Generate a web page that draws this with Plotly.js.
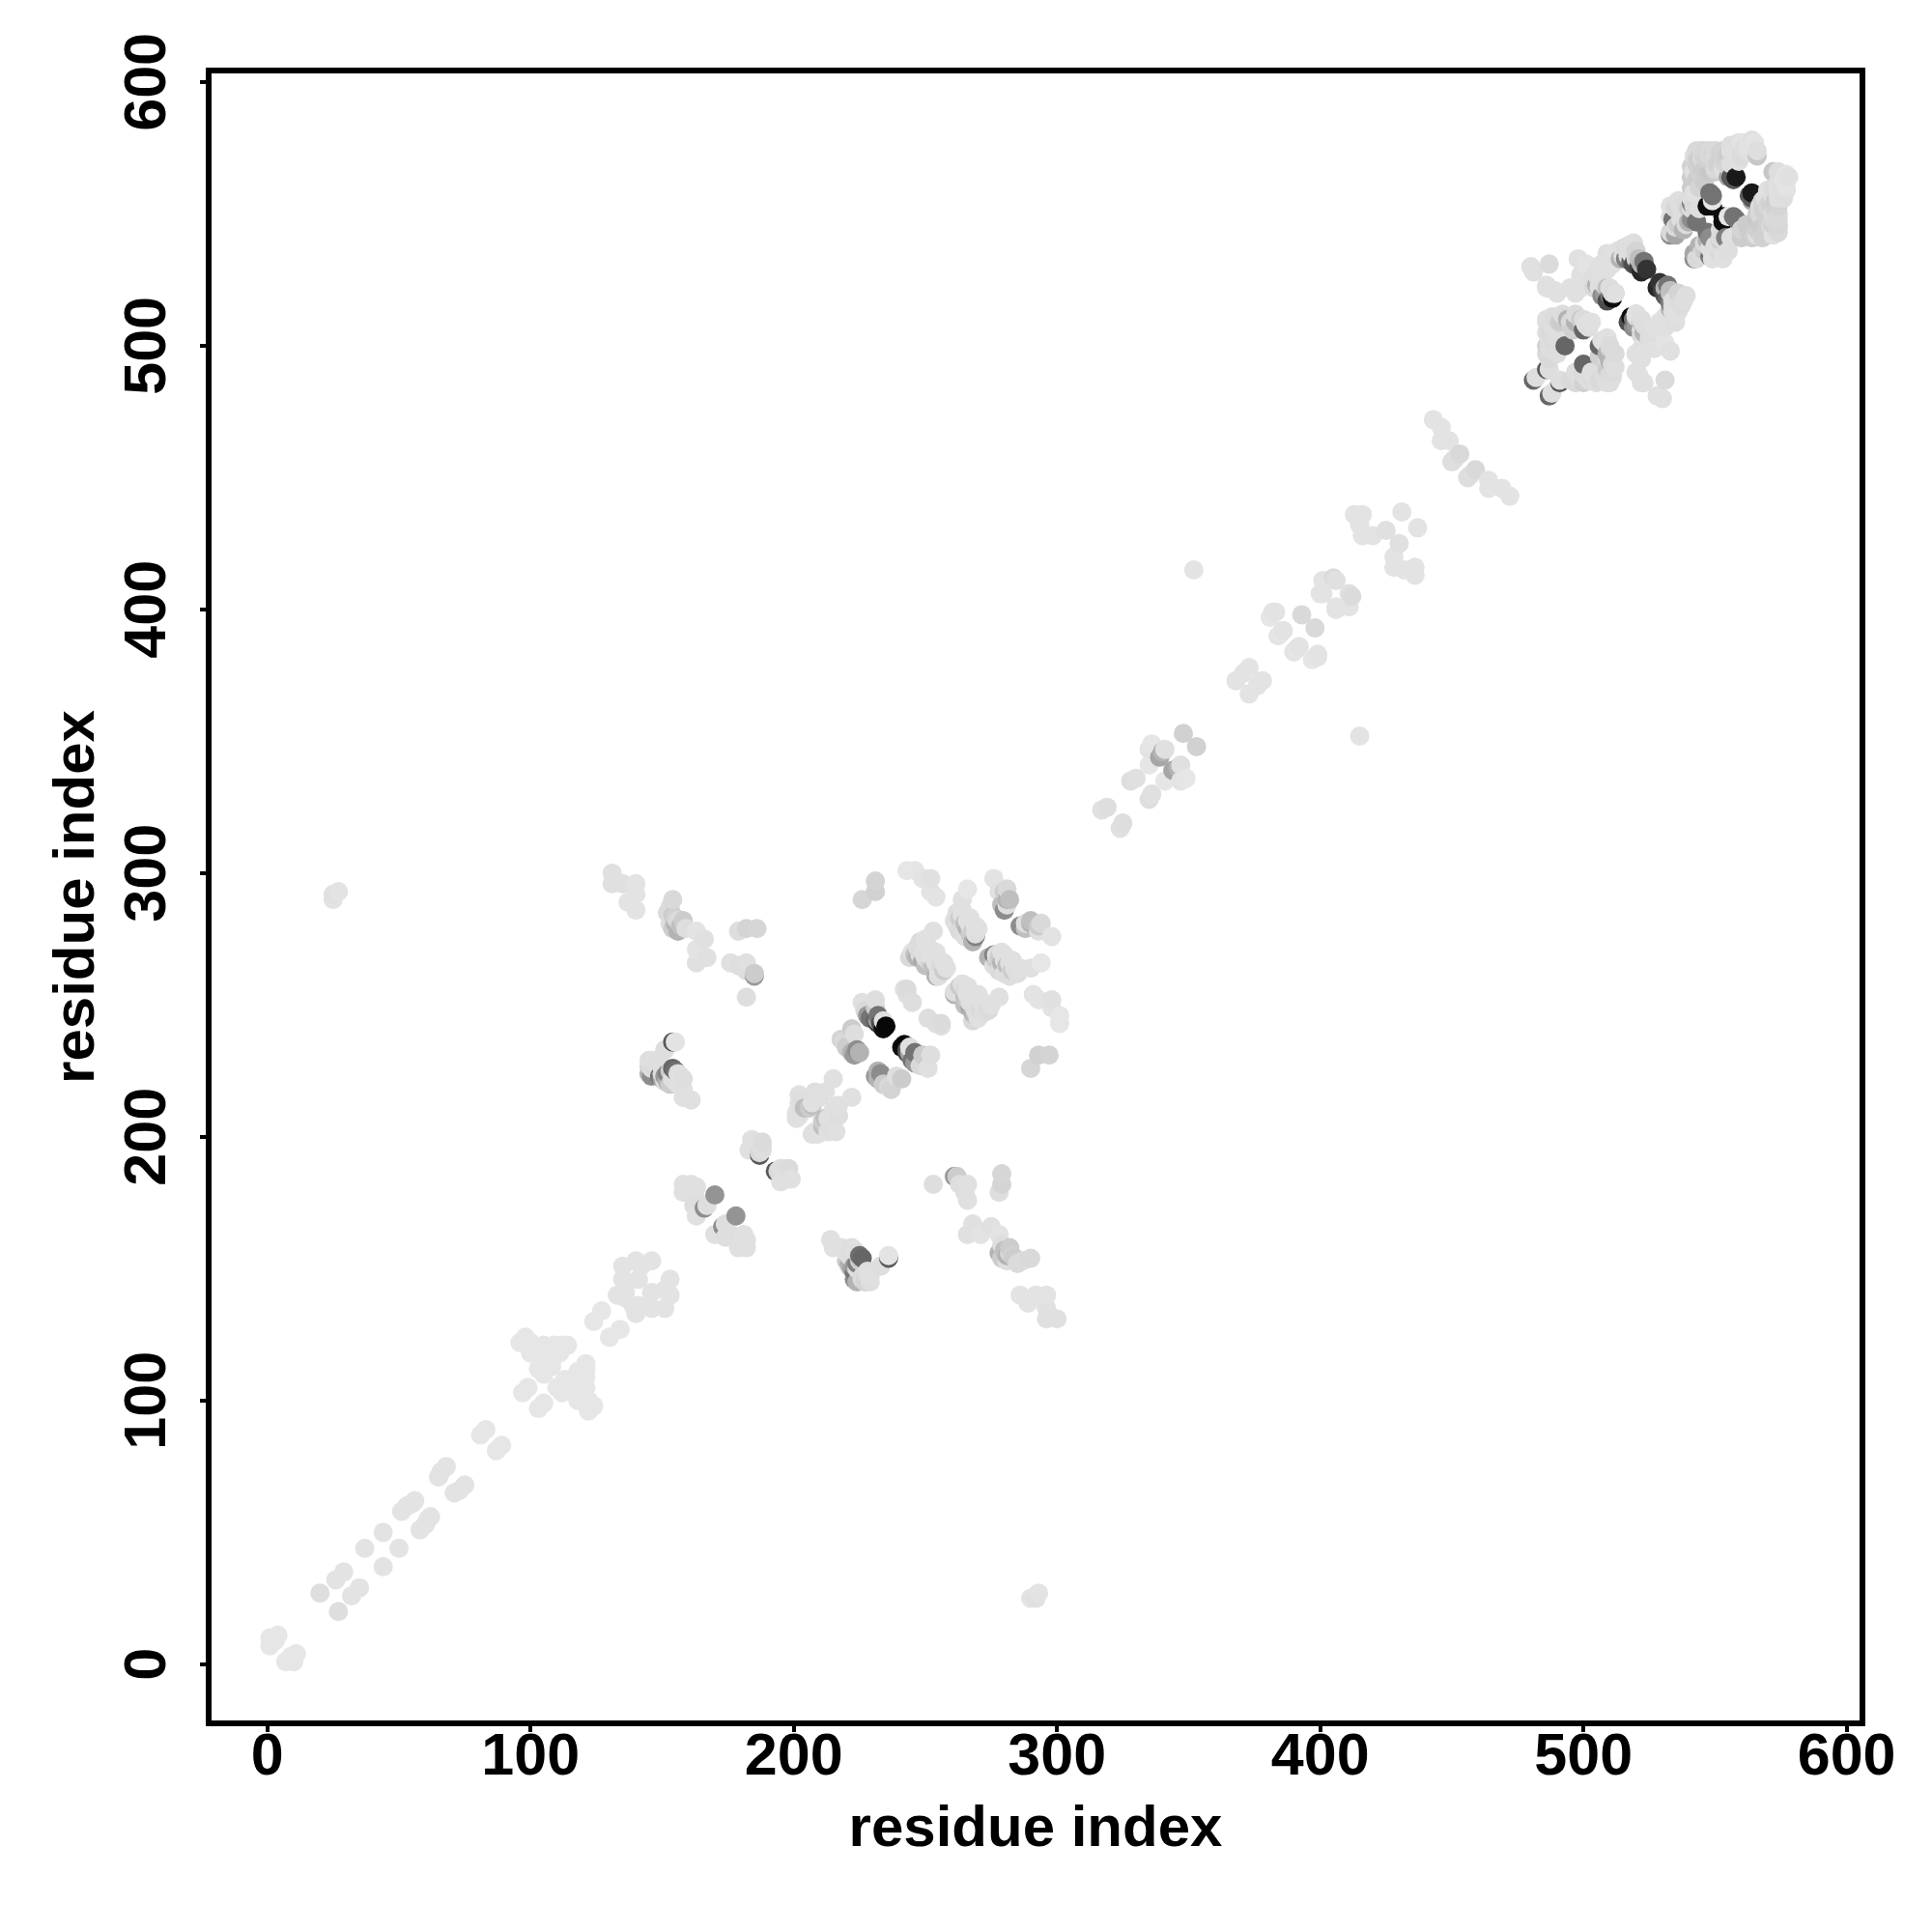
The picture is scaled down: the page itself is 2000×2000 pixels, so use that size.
<!DOCTYPE html>
<html>
<head>
<meta charset="utf-8">
<script src="https://cdn.plot.ly/plotly-3.0.1.min.js"></script>
<style>html,body{margin:0;padding:0;background:#fff}</style>
</head>
<body>
<div id="chart" style="width:2000px;height:2000px"></div>
<script>
// Contact pairs: residue i < residue j, with contact score (0 white .. 1 black)
const residueI = [
  1,1,3,4, 20,26,29,37,44, 51,53,55,56,65,66,68,81,83,97,99,
  96,98,100,105,109,114,111,104,108,105,108, 124,127,
  135,140,146,142,141,135,136,133,136,
  158,161,158,163,163,163,162,166,167,170,
  184,188,187,187,188,183,185,188,184,
  201,202,202,203,204,207,209,212,215,208,206,210,202,201,207,
  131,131,135,140,140,137,140,
  154,153,153,155,158,156,159,163,166,163,167,163,
  179,182,186,176,179,182,182,185,185,182,
  145,147,149,152,153,152,154,155,151,154,155,153,158,158,161,158,146,145,149,146,145,
  25,25,27,
  226,231,227,228,229,231,232,233,232,234,234,235,231,232,
  222,223,219,220,222,225,223,224,218,
  243,245,243,242,
  253,250,248,244,248,247,249,252,253,256,255,257,254,
  266,264,264,261,264,267,269,269,268,
  243,246,249,252,252,254,
  231,231,226,
  276,278,280,279,280,281,282,281,281,
  317,319,328,330,335,336,339,340,341,335,348,
  368,371,373,381,383,384,386,393,382,385,
  400,401,401,406,405,
  352,
  413,416,415,416,420,425,431,
  443,446,446,449,450,451,453,
  481,487,487,486,490,497,498,501,501,506,506,504,509,513,517,519,520,518,521,523,522,524,
  507,509,509,510,511,512,512,
  500,501,497,492,489,486,487,496,493,
  487,487,486,481,482,488,486,486,486,487,489,486,480,505,515,
  534,535,537,538,540,540,541,534,543,
  542,543,544,545,546,547,548,552,555,551,
  560,565,566,555,557,558,549,549,549,
  533,533,533,533,541,541,542,547,548,
  553,556,566,564,559,553,545,542,542,550,
  // overlapping rows that show only as rims and fill inside the clusters
  100,102,106,103,107,112,
  150,151,150,151,154,155,156,156,157,147,148,
  152,154,155,156,157,154,
  245,246,247,248,249,250,250,251,252,253,254,251,252,254,255,257,258,
  262,263,264,265,266,266,267,267,268,269,270,262,263,265,
  503,505,505,506,507,508,508,510,510,511,513,514,515,516,517,519,520,521,522,516,507,509,511,507,509,511,518,
  488,490,491,493,494,495,497,499,500,502,503,486,488,489,487,490,490,
  495,499,499,
  535,536,538,539,537,539,541,541,543,544,545,546,548,549,550,552,553,554,556,558,559,562,563,550,542,544,535,536,
  556,557,555,545,548,543,544,546,541,541,560,561,556,557,550,548,546,543
];
const residueJ = [
  7,10,9,11, 27,32,35,44,50, 58,60,61,62,71,73,75,87,89,103,105,
  122,124,122,121,121,121,118,117,115,110,113, 130,134,
  151,153,153,151,146,146,141,140,139,
  182,182,179,181,176,170,174,173,174,178,
  197,196,193,194,195,195,197,198,199,
  207,208,213,214,211,212,216,217,222,217,211,215,216,209,213,
  300,296,296,296,292,289,286,
  290,287,281,283,282,278,279,278,275,271,268,266,
  278,279,279,266,265,266,263,262,261,253,
  227,226,223,224,225,221,226,225,233,236,236,220,222,218,214,215,226,229,228,223,224,
  290,292,293,
  251,252,248,246,245,244,244,243,243,241,244,242,249,246,
  241,239,236,234,232,232,231,233,237,
  254,251,256,256,
  278,275,274,268,271,268,267,268,265,265,261,263,261,
  294,290,286,282,279,277,276,277,274,
  301,301,298,298,293,291,
  297,293,290,
  298,293,293,288,286,288,290,290,294,
  324,325,335,336,341,349,344,346,347,347,353,
  373,376,378,397,399,390,392,398,399,391,
  406,411,406,411,412,
  415,
  436,436,432,428,428,430,437,
  472,469,464,464,456,457,459,
  528,531,499,522,520,520,533,531,523,530,525,522,522,536,538,539,536,532,533,532,528,529,
  519,517,535,533,518,520,520,
  506,508,509,512,510,510,506,506,500,
  495,491,491,487,488,511,509,500,497,505,521,523,530,527,537,
  553,542,548,550,552,547,556,548,547,
  565,571,560,568,562,570,566,573,573,569,
  577,577,572,564,563,564,553,555,557,
  542,543,549,553,548,554,558,553,558,
  567,564,574,578,577,574,571,572,566,567,
  // overlapping rows that show only as rims and fill inside the clusters
  118,120,114,112,118,121,
  224,223,222,221,222,221,220,224,223,229,228,
  285,284,281,282,280,279,
  270,269,272,269,270,268,265,267,266,268,266,272,271,270,263,266,264,
  285,283,284,281,282,279,280,283,278,280,279,280,278,276,
  525,527,523,522,524,520,523,519,522,520,534,533,534,533,534,531,533,530,531,537,531,533,531,527,529,535,535,
  508,511,509,511,510,509,512,510,510,507,509,505,503,500,502,497,503,
  522,522,527,
  545,546,544,546,552,554,552,560,563,566,570,567,570,572,566,568,570,571,574,574,570,574,576,574,553,552,552,555,
  569,572,568,574,574,569,571,572,564,568,572,575,576,574,572,572,574,574
];
const contactScore = [
  .1,.1,.1,.1, .13,.11,.11,.11,.11, .11,.11,.11,.11,.11,.11,.11,.1,.1,.1,.1,
  .1,.1,.1,.1,.1,.1,.1,.1,.1,.1,.1, .1,.1,
  .11,.11,.11,.11,.11,.11,.11,.11,.11,
  .12,.12,.12,.12,.13,.12,.13,.45,.13,.42,
  .12,.13,.65,.15,.13,.12,.12,.14,.12,
  .12,.12,.12,.13,.25,.25,.12,.12,.12,.13,.2,.12,.12,.12,.12,
  .12,.12,.12,.11,.11,.11,.11,
  .15,.14,.13,.18,.2,.3,.13,.11,.12,.11,.12,.12,
  .13,.17,.16,.12,.13,.12,.13,.2,.4,.13,
  .17,.14,.55,.5,.2,.3,.6,.57,.13,.65,.11,.2,.13,.12,.12,.12,.13,.13,.13,.45,.3,
  .11,.12,.11,
  .12,.13,.15,.4,.55,.6,.35,.7,.75,.95,.12,.97,.2,.55,
  .2,.13,.15,.2,.3,.3,.4,.45,.17,
  .13,.13,.14,.12,
  .12,.12,.14,.15,.15,.3,.35,.12,.25,.15,.13,.2,.3,
  .1,.12,.12,.13,.14,.2,.5,.13,.3,
  .1,.1,.11,.12,.11,.11,
  .17,.18,.16,
  .11,.12,.2,.25,.45,.13,.25,.3,.15,
  .12,.13,.13,.12,.1,.1,.35,.3,.12,.11,.18,
  .11,.11,.11,.1,.11,.11,.11,.15,.11,.1,
  .11,.11,.11,.12,.14,
  .11,
  .11,.11,.11,.11,.11,.12,.11,
  .11,.11,.11,.11,.13,.13,.15,
  .12,.14,.13,.12,.12,.12,.12,.11,.12,.12,.13,.15,.25,.12,.13,.13,.17,.6,.25,.55,.85,.8,
  .45,.7,.13,.12,.95,.25,.12,
  .6,.12,.3,.13,.14,.13,.15,.18,.6,
  .15,.13,.65,.6,.13,.13,.13,.18,.15,.13,.12,.12,.12,.13,.13,
  .12,.35,.13,.13,.2,.3,.13,.55,.55,
  .18,.18,.17,.2,.2,.18,.22,.18,.2,.18,
  .11,.11,.22,.35,.65,.9,.95,.1,.55,
  .45,.15,.12,.12,.45,.5,.12,.95,.55,
  .13,.65,.13,.12,.13,.17,.15,.12,.12,.15,
  // overlapping rows that show only as rims and fill inside the clusters
  .1,.1,.1,.1,.1,.1,
  .13,.4,.35,.13,.13,.13,.12,.13,.12,.12,.13,
  .14,.2,.3,.14,.25,.2,
  .12,.25,.13,.13,.13,.13,.25,.13,.2,.12,.12,.12,.12,.12,.12,.12,.12,
  .13,.2,.12,.25,.12,.3,.12,.12,.2,.12,.12,.13,.14,.13,
  .13,.13,.3,.13,.13,.4,.13,.55,.13,.14,.13,.3,.13,.5,.13,.7,.15,.75,.3,.14,.12,.12,.12,.12,.12,.12,.13,
  .13,.14,.2,.14,.3,.15,.14,.2,.14,.13,.12,.13,.14,.14,.13,.13,.13,
  .12,.12,.12,
  .14,.2,.3,.14,.13,.14,.14,.2,.2,.18,.18,.2,.18,.16,.2,.18,.16,.18,.12,.12,.12,.12,.11,.15,.15,.13,.16,.13,
  .13,.13,.17,.15,.15,.18,.2,.18,.2,.18,.14,.13,.13,.13,.14,.15,.16,.15
];
const tickValues = [0,100,200,300,400,500,600];
const tickLabels = ['0','100','200','300','400','500','600'];
const axisLabel = 'residue index';

// The map is symmetric: every pair is drawn on both sides of the diagonal,
// painted in order of x then y.
const n = Math.min(residueI.length, residueJ.length, contactScore.length);
const pts = [];
for (let k = 0; k < n; k++) {
  pts.push([residueI[k], residueJ[k], contactScore[k]]);
  pts.push([residueJ[k], residueI[k], contactScore[k]]);
}
pts.sort((a, b) => a[0] - b[0] || a[1] - b[1]);

const fontFamily = '"Liberation Sans", Arial, Helvetica, sans-serif';
const axisBase = {
  showgrid: false, zeroline: false, showline: true, mirror: true,
  linecolor: '#000', linewidth: 6,
  ticks: 'outside', ticklen: 6, tickwidth: 3.5, tickcolor: '#000',
  tickmode: 'array', tickvals: tickValues, ticktext: tickLabels,
  tickfont: {family: fontFamily, size: 61, color: '#000', weight: 700}
};
Plotly.newPlot('chart', [{
  type: 'scatter', mode: 'markers',
  x: pts.map(p => p[0]), y: pts.map(p => p[1]),
  marker: {
    size: 20, line: {width: 0},
    color: pts.map(p => p[2]), cmin: 0, cmax: 1,
    colorscale: [[0, '#ffffff'], [1, '#000000']], showscale: false
  },
  hoverinfo: 'x+y'
}], {
  width: 2000, height: 2000, autosize: false, showlegend: false,
  paper_bgcolor: '#fff', plot_bgcolor: '#fff',
  margin: {l: 219, r: 75, t: 75.5, b: 218.7, pad: 0},
  xaxis: Object.assign({}, axisBase, {
    range: [-21.2, 604.9], ticklabelstandoff: -29,
    title: {text: axisLabel, standoff: 22, font: {family: fontFamily, size: 60, color: '#000', weight: 700}}
  }),
  yaxis: Object.assign({}, axisBase, {
    range: [-21.3, 603.3], tickangle: -90, ticklabelstandoff: 12, ticklabelshift: 9,
    title: {text: axisLabel, standoff: 1, font: {family: fontFamily, size: 60, color: '#000', weight: 700}}
  })
}, {displayModeBar: false, responsive: false});
</script>
</body>
</html>
